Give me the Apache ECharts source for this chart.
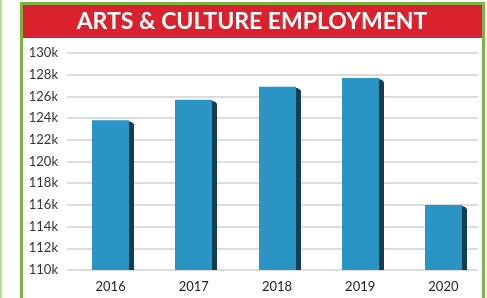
<!DOCTYPE html>
<html>
<head>
<meta charset="UTF-8">
<title>Arts & Culture Employment</title>
<script src="https://cdn.jsdelivr.net/npm/echarts@6/dist/echarts.min.js"></script>
<style>
  html, body { margin: 0; padding: 0; background: #fff; }
  #main { width: 487px; height: 298px; }
</style>
</head>
<body>
<div id="main"></div>
<script>
// data
var years = ['2016', '2017', '2018', '2019', '2020'];
var jobs = [123800, 125700, 126900, 127700, 116000];
var yMin = 110000, yMax = 130000, yStep = 2000;

var chart = echarts.init(document.getElementById('main'));

// bar with a flat dark "side" on its right, like the reference
function renderBar(params, api) {
  var idx = api.value(0);
  var top = api.coord([idx, api.value(1)]);
  var base = api.coord([idx, yMin]);
  var w = 37;
  var x = Math.round(top[0] - w / 2);
  return {
    type: 'group',
    children: [
      {
        type: 'polygon',
        shape: { points: [[x + w, top[1] + 1], [x + w + 3, top[1] + 2], [x + w + 5, top[1] + 4], [x + w + 5, base[1]], [x + w, base[1]]] },
        style: { fill: '#113f52' }
      },
      {
        type: 'rect',
        shape: { x: x, y: top[1], width: w, height: base[1] - top[1] },
        style: { fill: '#2a95c4' }
      }
    ]
  };
}

var option = {
  animation: false,
  textStyle: { fontFamily: 'Lato' },
  graphic: [
    // thin light green line at far left
    { type: 'rect', shape: { x: 0, y: 0, width: 2, height: 298 }, style: { fill: '#b9dd94' }, silent: true },
    // green frame
    { type: 'rect', shape: { x: 21.5, y: 3.5, width: 462, height: 300 }, style: { fill: null, stroke: '#7cb443', lineWidth: 3 }, silent: true },
    // red title band
    { type: 'rect', shape: { x: 23, y: 5, width: 459, height: 33 }, style: { fill: '#d9222d' }, silent: true },
    {
      type: 'text', x: 252, y: 22, silent: true,
      style: {
        text: 'ARTS & CULTURE EMPLOYMENT', fill: '#fff', font: 'bold 23px Lato',
        align: 'center', verticalAlign: 'middle'
      }
    }
  ],
  grid: [
    { left: 69, width: 416, top: 53, bottom: 28 },
    { left: 67, width: 411, top: 53, bottom: 28 }
  ],
  xAxis: [
    {
      gridIndex: 0, type: 'category', data: years,
      axisLine: { show: false }, axisTick: { show: false },
      axisLabel: { color: '#222', fontSize: 13, margin: 10 }
    },
    { gridIndex: 1, type: 'category', data: years, show: false }
  ],
  yAxis: [
    { gridIndex: 0, type: 'value', min: yMin, max: yMax, interval: yStep, show: false },
    {
      gridIndex: 1, type: 'value', min: yMin, max: yMax, interval: yStep,
      axisLine: { show: false }, axisTick: { show: false },
      axisLabel: {
        color: '#333', fontSize: 13, margin: 9,
        formatter: function (v) { return (v / 1000) + 'k'; }
      },
      splitLine: { lineStyle: { color: '#dcdcdc', width: 2 } }
    }
  ],
  series: [
    {
      type: 'custom', xAxisIndex: 0, yAxisIndex: 0,
      renderItem: renderBar,
      encode: { x: 0, y: 1 },
      data: jobs.map(function (v, i) { return [i, v]; })
    }
  ]
};

chart.setOption(option);
</script>
</body>
</html>
